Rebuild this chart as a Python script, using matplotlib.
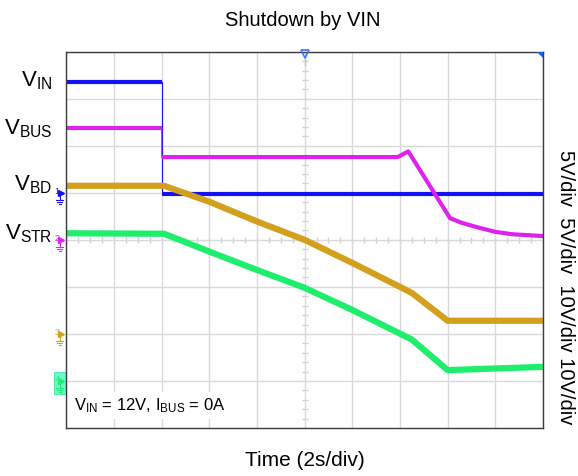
import numpy as np
import matplotlib.pyplot as plt
from matplotlib.patches import Rectangle, Polygon
from matplotlib.transforms import blended_transform_factory

plt.rcParams['font.family'] = ['Liberation Sans', 'DejaVu Sans']
plt.rcParams['mathtext.fontset'] = 'custom'
plt.rcParams['mathtext.rm'] = 'Liberation Sans'
plt.rcParams['mathtext.it'] = 'Liberation Sans'

# Ajustes del osciloscopio
ch_labels = [r'$\mathrm{V_{IN}}$', r'$\mathrm{V_{BUS}}$', r'$\mathrm{V_{BD}}$', r'$\mathrm{V_{STR}}$']
ch_scale = [5, 5, 10, 10]      # V/div
ch_offset = [1, 0, -2, -3]     # posicion de tierra (div)
ch_colors = ['#1212f2', '#dd22ee', '#d3a01e', '#1fee6c']
scale_text = '5V/div  5V/div  10V/div 10V/div'

vin_t = [0, 4.0, 4.0, 20]
vin_v = [11.8, 11.8, -0.1, -0.1]

vbus_t = [0, 4.0, 4.0, 13.9, 14.35, 16.1, 16.6, 17.3, 18.0, 18.7, 20]
vbus_v = [11.9, 11.9, 8.8, 8.8, 9.4, 2.3, 1.8, 1.3, 0.85, 0.6, 0.4]

vbd_t = [0, 4.1, 6.0, 8.0, 10.0, 12.0, 14.0, 14.5, 16.0, 20]
vbd_v = [31.5, 31.5, 28.1, 23.9, 20.0, 15.1, 10.0, 8.7, 2.8, 2.8]

vstr_t = [0, 4.1, 6.0, 8.0, 10.0, 12.0, 14.5, 16.0, 20]
vstr_v = [31.4, 31.3, 27.5, 23.6, 19.8, 15.1, 8.8, 2.3, 3.0]

W, H = 578, 476
fig = plt.figure(figsize=(W / 100, H / 100), dpi=100)
ax_l, ax_r, ax_t, ax_b = 66.3, 543.0, 51.7, 428.0
ax = fig.add_axes([ax_l / W, 1 - ax_b / H, (ax_r - ax_l) / W, (ax_b - ax_t) / H])
ax.set_xlim(0, 20)
ax.set_ylim(-4, 4)
ax.set_xticks(np.arange(0, 21, 2))
ax.set_yticks(np.arange(-4, 5, 1))
ax.grid(True, color='#d9d9d9', lw=1)
ax.tick_params(length=0, labelbottom=False, labelleft=False)
for s in ax.spines.values():
    s.set_color('#3c3c3c')
    s.set_linewidth(1)
    s.set_zorder(10)

# marcas de la cruz central
xs = np.arange(0, 20.01, 0.5)
ax.plot(xs, np.zeros_like(xs), ls='none', marker='|', ms=4, color='#cfcfcf', zorder=1)
ys = np.arange(-4, 4.01, 0.2)
ax.plot(np.full_like(ys, 10), ys, ls='none', marker='_', ms=4, color='#cfcfcf', zorder=1)

# Trazas
traces = [(vin_t, vin_v, 3.0), (vbus_t, vbus_v, 3.0), (vbd_t, vbd_v, 4.5), (vstr_t, vstr_v, 4.5)]
for i, (t, v, lw) in enumerate(traces):
    t = np.array(t, float)
    y = np.array(v, float) / ch_scale[i] + ch_offset[i]
    ax.plot(t, y, color=ch_colors[i], lw=0.8, zorder=3 + i)
    cuts = np.where(np.diff(t) == 0)[0] + 1
    for tt, yy in zip(np.split(t, cuts), np.split(y, cuts)):
        ax.plot(tt, yy, color=ch_colors[i], lw=lw, zorder=3 + i, solid_capstyle='butt')

# Indicadores de canal (tierra) a la izquierda
trans = blended_transform_factory(ax.transAxes, ax.transData)
fx = lambda px: (px - ax_l) / (ax_r - ax_l)
dy = lambda p: p / ((ax_b - ax_t) / 8)
box = Rectangle((fx(54), ch_offset[3] - dy(13.5)), fx(65.8) - fx(54), dy(22),
                transform=trans, clip_on=False, facecolor='#6ff7d6', edgecolor='#3fe89a',
                lw=0.6, zorder=2)
ax.add_patch(box)
for i, o in enumerate(ch_offset):
    c = ch_colors[i]
    ax.text(fx(57), o + dy(1.5), str(i + 1), color=c, fontsize=6.5, ha='center', va='center',
            transform=trans, clip_on=False)
    ax.plot([fx(61)], [o], marker='>', ms=4.5, color=c, transform=trans, clip_on=False, zorder=6)
    ax.plot([fx(59.5), fx(62)], [o, o], color=c, lw=0.8, transform=trans, clip_on=False)
    ax.plot([fx(59.5), fx(59.5)], [o, o - dy(7)], color=c, lw=0.8, transform=trans, clip_on=False)
    for k, hw in enumerate([3.5, 2.2, 1.0]):
        yy = o - dy(7 + 2 * k)
        ax.plot([fx(59.5 - hw), fx(59.5 + hw)], [yy, yy], color=c, lw=0.8,
                transform=trans, clip_on=False)

# Marcador de disparo arriba
ax.plot([10], [4 - dy(2.5)], marker='v', ms=6, mfc='none', mec='#3a78ff', mew=1.2,
        clip_on=False, zorder=11)
ax.plot([10, 10], [4 - dy(6), 4 - dy(13)], color='#c8c8c8', lw=1, zorder=2)
ax.add_patch(Polygon([(fx(536.5), 4), (1, 4), (1, 4 - dy(6))], closed=True, transform=trans,
                     facecolor='#1a5cff', edgecolor='none', clip_on=False, zorder=11))

# Texto en el recuadro
ax.text(fx(74), -3 - dy(25), r'$\mathrm{V_{IN}}$ = 12V, $\mathrm{I_{BUS}}$ = 0A', fontsize=12,
        ha='left', va='center', transform=trans, zorder=12,
        bbox=dict(facecolor='white', edgecolor='none', pad=3))

# Etiquetas
label_y = [81, 129, 185, 234]
for lab, yp in zip(ch_labels, label_y):
    fig.text(52 / W, 1 - yp / H, lab, fontsize=16, ha='right', va='center')

fig.text(303 / W, 1 - 20 / H, 'Shutdown by VIN', fontsize=14.5, ha='center', va='center')
fig.text(305 / W, 1 - 461 / H, 'Time (2s/div)', fontsize=15, ha='center', va='center')
fig.text(566 / W, 1 - 287 / H, scale_text, fontsize=14.5, rotation=-90, ha='center', va='center')

fig.savefig('out.png', dpi=100)
